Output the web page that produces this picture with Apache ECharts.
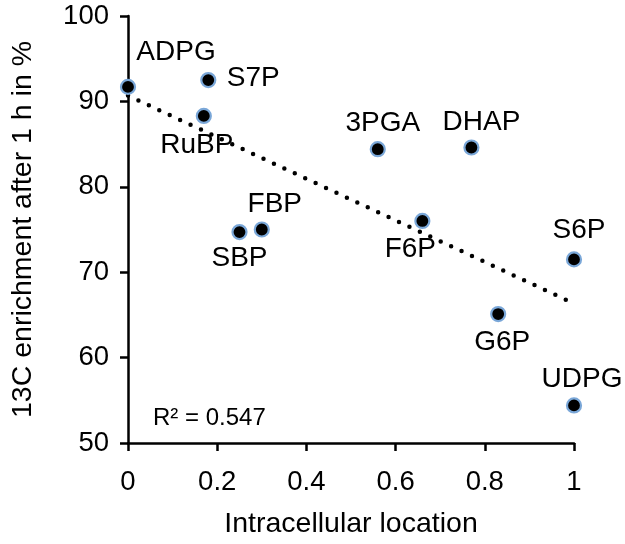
<!DOCTYPE html>
<html>
<head>
<meta charset="utf-8">
<script src="https://cdn.jsdelivr.net/npm/echarts@6/dist/echarts.min.js"></script>
<style>
html,body{margin:0;padding:0;background:#fff;}
#chart{width:625px;height:544px;}
</style>
</head>
<body>
<div id="chart"></div>
<script>
// ---- data ----
const names = ['ADPG','S7P','RuBP','3PGA','DHAP','F6P','S6P','FBP','SBP','G6P','UDPG'];
const xValues = [0, 0.18, 0.17, 0.56, 0.77, 0.66, 1.0, 0.30, 0.25, 0.83, 1.0];
const yValues = [91.7, 92.5, 88.3, 84.4, 84.6, 76.0, 71.5, 75.0, 74.7, 65.1, 54.4];
const xTicks = [0, 0.2, 0.4, 0.6, 0.8, 1];
const yTicks = [50, 60, 70, 80, 90, 100];
const rSquaredText = 'R² = 0.547';
const xAxisTitle = 'Intracellular location';
const yAxisTitle = '13C enrichment after 1 h in %';

// ---- label placement (style, not data) ----
const labelOffsets = {
  ADPG:[48,-35], S7P:[45,-2], RuBP:[-7,29], '3PGA':[5,-26], DHAP:[10,-25],
  F6P:[-12,28], S6P:[5,-29], FBP:[13,-25], SBP:[0,26], G6P:[4,28], UDPG:[8,-26]
};

// linear trend (least squares) from the data
const n = xValues.length;
const mx = xValues.reduce((a,b)=>a+b,0)/n;
const my = yValues.reduce((a,b)=>a+b,0)/n;
let sxy=0, sxx=0;
for (let i=0;i<n;i++){ sxy += (xValues[i]-mx)*(yValues[i]-my); sxx += (xValues[i]-mx)**2; }
const slope = sxy/sxx, intercept = my - slope*mx;
const trend = [[xTicks[0], intercept + slope*xTicks[0]], [xTicks[xTicks.length-1], intercept + slope*xTicks[xTicks.length-1]]];

const FONT = "'Liberation Sans', Arial, sans-serif";
const chart = echarts.init(document.getElementById('chart'), null, {renderer:'canvas'});
chart.setOption({
  backgroundColor:'#fff',
  animation:false,
  grid:{left:128, right:51, top:16, bottom:101},
  xAxis:{
    type:'value', min:0, max:1, interval:0.2,
    splitLine:{show:false},
    axisLine:{lineStyle:{color:'#000', width:2.5}},
    axisTick:{show:true, length:8, lineStyle:{color:'#000', width:2.5}},
    axisLabel:{color:'#000', fontSize:27.5, fontFamily:FONT, margin:25,
      formatter:v=>String(+v.toFixed(1))},
    name:xAxisTitle, nameLocation:'middle', nameGap:67,
    nameTextStyle:{color:'#000', fontSize:28.5, fontFamily:FONT}
  },
  yAxis:{
    type:'value', min:50, max:100, interval:10,
    splitLine:{show:false},
    axisLine:{show:true, lineStyle:{color:'#000', width:2.5}},
    axisTick:{show:true, length:8, lineStyle:{color:'#000', width:2.5}},
    axisLabel:{color:'#000', fontSize:27.5, fontFamily:FONT, margin:19},
    name:yAxisTitle, nameLocation:'middle', nameGap:90,
    nameTextStyle:{color:'#000', fontSize:28.5, fontFamily:FONT}
  },
  graphic:[{
    type:'text', left:153, top:406,
    style:{text:rSquaredText, fill:'#000', font:"24px 'Liberation Sans', Arial, sans-serif"}
  }],
  series:[
    {
      type:'line', data:trend, showSymbol:false, symbol:'none', z:1,
      lineStyle:{color:'#000', width:4.5, type:[0,11.5], cap:'round', opacity:1}
    },
    {
      type:'scatter', z:3,
      symbol:'circle', symbolSize:14,
      itemStyle:{color:'#000', borderColor:'#7aa7d8', borderWidth:2.2, opacity:1},
      emphasis:{disabled:true},
      data:names.map((nm,i)=>({
        name:nm, value:[xValues[i], yValues[i]],
        label:{show:true, position:'inside', offset:labelOffsets[nm], formatter:nm,
          color:'#000', opacity:1, fontSize:28, fontFamily:FONT, textBorderWidth:0}
      }))
    }
  ]
});
</script>
</body>
</html>
